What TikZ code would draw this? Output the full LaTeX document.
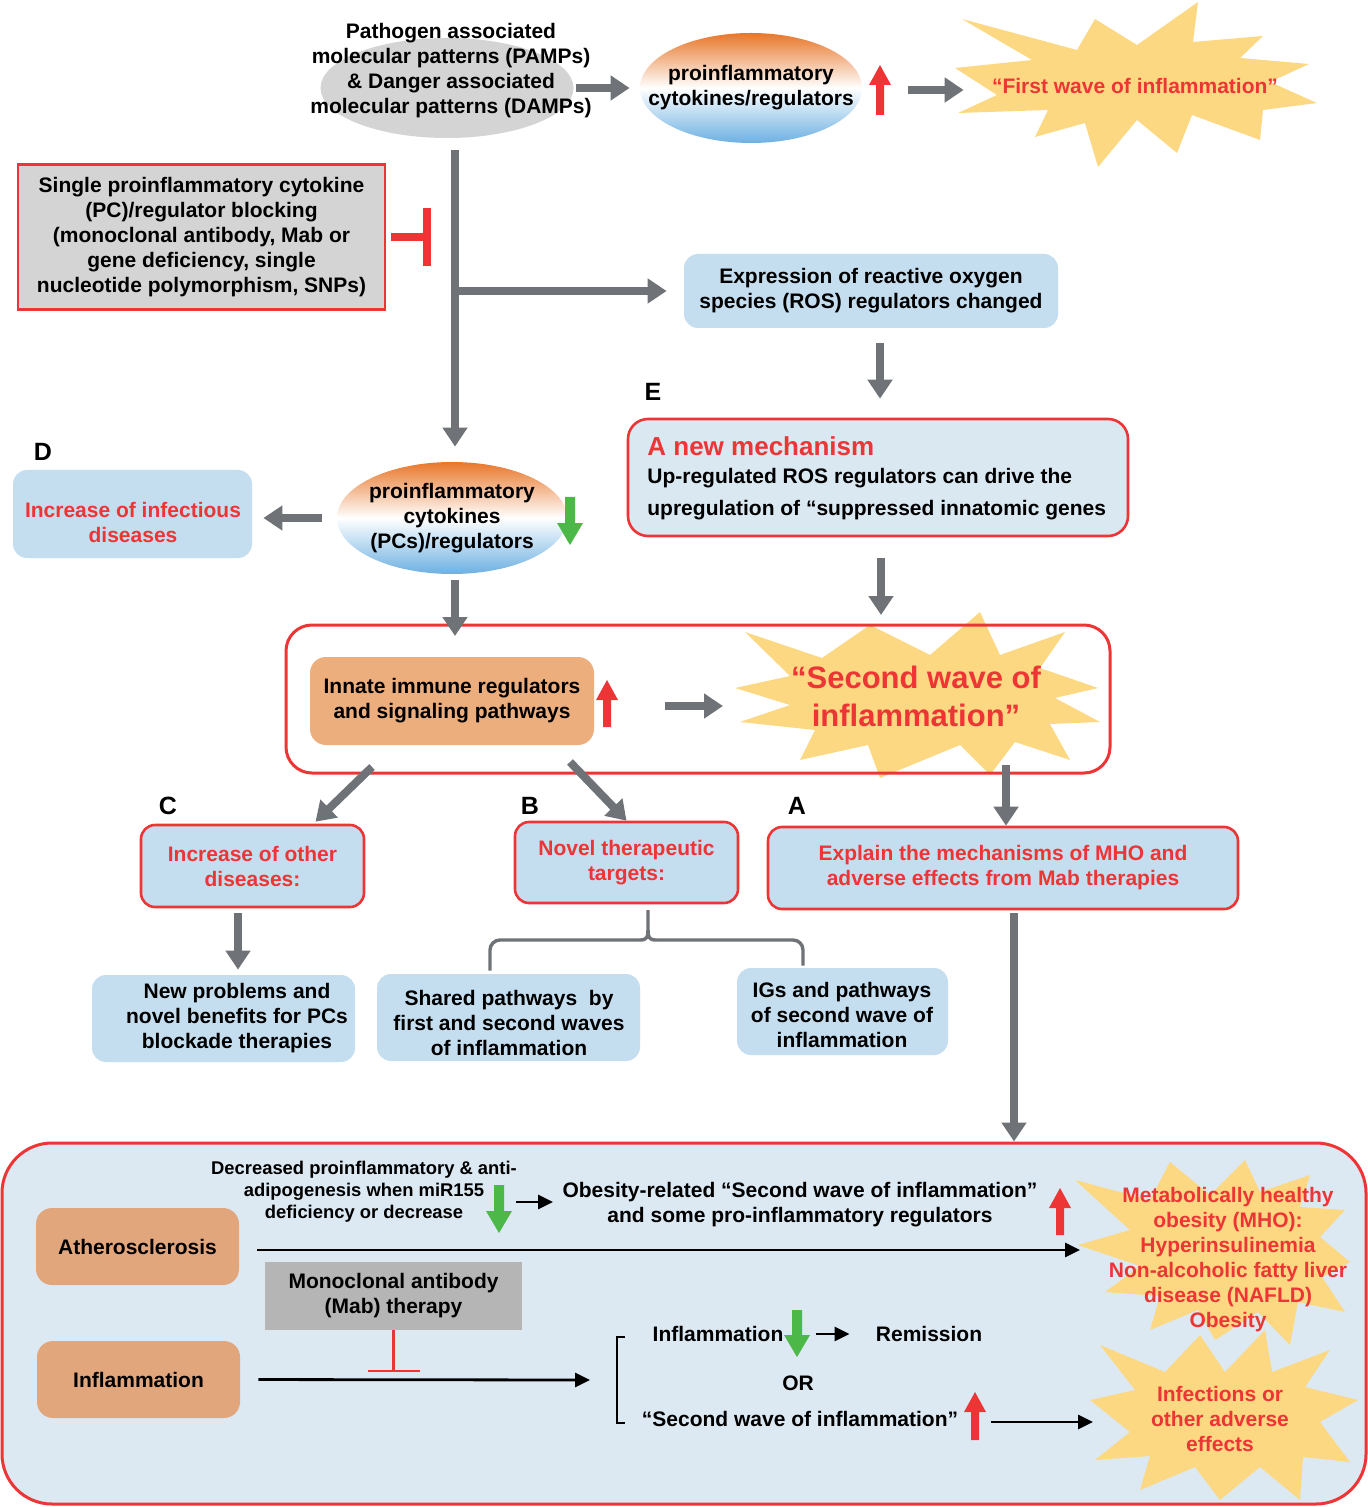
\documentclass[tikz,border=0pt]{standalone}
\usepackage{fontspec}
\setmainfont{Liberation Sans}
\usetikzlibrary{arrows.meta,shapes.geometric,calc}
\definecolor{garr}{HTML}{6F7377}
\definecolor{lblue}{HTML}{C5DEEF}
\definecolor{pblue}{HTML}{DAE8F2}
\definecolor{bblue}{HTML}{DCE9F3}
\definecolor{rred}{HTML}{EE3535}
\definecolor{orng}{HTML}{EDAE7E}
\definecolor{orng2}{HTML}{E2A67C}
\definecolor{ystar}{HTML}{FDD882}
\definecolor{lgray}{HTML}{D4D4D4}
\definecolor{mgray}{HTML}{B5B5B5}
\definecolor{ggreen}{HTML}{4CB848}
\definecolor{eorange}{HTML}{E8772A}
\definecolor{eblue}{HTML}{6DB0E2}
\newcommand\blkup[4]{%
 \fill[#4] ({#1-4},#3) -- ({#1-4},{#2+20}) -- ({#1-11},{#2+20}) -- (#1,#2) -- ({#1+11},{#2+20}) -- ({#1+4},{#2+20}) -- ({#1+4},#3) -- cycle;}
\newcommand\blkdown[4]{%
 \fill[#4] ({#1-5},#2) -- ({#1-5},{#3-22}) -- ({#1-13},{#3-22}) -- (#1,#3) -- ({#1+13},{#3-22}) -- ({#1+5},{#3-22}) -- ({#1+5},#2) -- cycle;}
\tikzset{
 txt/.style={font=\bfseries\fontsize{10.5}{12.5}\selectfont, align=center, inner sep=0pt},
 rtxt/.style={txt, text=rred},
 lbox/.style={txt, fill=lblue, rounded corners=7pt},
 rbox/.style={lbox, draw=rred, line width=1.3pt},
 garrow/.style={draw=garr, line width=4pt, -{Triangle[width=12pt,length=9.5pt]}},
 barrow/.style={draw=black, line width=1.4pt, -{Triangle[width=7pt,length=7.5pt]}},
 letter/.style={font=\bfseries\fontsize{12.5}{14}\selectfont, inner sep=0pt},
 brk/.style={draw=garr, line width=1.7pt},
 gradell/.style={ellipse, top color=eorange, bottom color=eblue, middle color=white, inner sep=0pt},
}
\begin{document}
\begin{tikzpicture}[x=0.5pt,y=-0.5pt]
\useasboundingbox (0,0) rectangle (1368,1507);
\fill[white] (0,0) rectangle (1368,1507);

% ---------- top row ----------
\node[ellipse, fill=lgray, minimum width=126.5pt, minimum height=50pt, inner sep=0pt] (pamps) at (447,88) {};
\node[txt] (pampstxt) at (451,71) {Pathogen associated\\molecular patterns (PAMPs)\\\& Danger associated\\molecular patterns (DAMPs)};
\node[gradell, minimum width=111pt, minimum height=55pt] (pro1) at (751,88) {};
\node[txt] (pro1txt) at (751,88) {proinflammatory\\cytokines/regulators};
\draw[garrow, shorten <=1pt, shorten >=5pt] (pamps.east) -- (pro1.west);
\blkup{880}{65}{115}{rred}

\fill[ystar] (962,19) -- (1077,50) -- (1095,19) -- (1137,45) -- (1198,2) -- (1193,42) -- (1263,36) -- (1240,58) -- (1309,64) -- (1270,82) -- (1317,103) -- (1263,110) -- (1260,140) -- (1192,115) -- (1177,153) -- (1137,120) -- (1098,167) -- (1085,123) -- (1035,137) -- (1048,110) -- (958,113) -- (997,95) -- (955,68) -- (1032,60) -- cycle;
\node[rtxt] (fwtxt) at (1135,86) {“First wave of inflammation”};
\coordinate (fa) at (908,90);
\draw[garrow, shorten >=14pt] (fa) -- (fa -| fwtxt.west);

% ---------- blocking ----------
\node[txt, fill=lgray, draw=rred, line width=1.3pt, minimum width=183.5pt, minimum height=72.5pt] (pcbox) at (201.5,237) {Single proinflammatory cytokine\\(PC)/regulator blocking\\(monoclonal antibody, Mab or\\gene deficiency, single\\nucleotide polymorphism, SNPs)};
\coordinate (inh) at (431,237);
\draw[rred, line width=4pt, -{Bar[width=29pt]}] ([xshift=2.5pt]pcbox.east) -- (inh);

% ---------- ROS ----------
\node[lbox, minimum width=187pt, minimum height=37pt] (ros) at (871,291) {Expression of reactive oxygen\\species (ROS) regulators changed};
\node[gradell, minimum width=115pt, minimum height=56pt] (pro2) at (452,518) {};
\node[txt] (pro2txt) at (452,518) {proinflammatory\\cytokines\\(PCs)/regulators};
\coordinate (v0) at (455,150);
\coordinate (vb) at (455,291);
\draw[garrow, shorten >=7.5pt] (v0) -- (v0 |- pro2.north);
\draw[garrow, shorten >=8.5pt] (vb) -- (ros.west);

\node[letter] (lE) at (653,392) {E};
\node[rbox, fill=pblue, minimum width=250pt, minimum height=58.5pt, rounded corners=10pt] (ebox) at (878,477.5) {};
\node[rtxt, font=\bfseries\fontsize{13}{15}\selectfont, anchor=west] (etitle) at (647,446) {A new mechanism};
\node[txt, align=left, anchor=west, font=\bfseries\fontsize{10.5}{16}\selectfont] (ebody) at (647,494) {Up-regulated ROS regulators can drive the\\upregulation of “suppressed innatomic genes};
\draw[garrow, shorten <=7.5pt, shorten >=9.5pt] ([xshift=4.5pt]ros.south) -- ([xshift=4.5pt]ros.south |- ebox.north);

% ---------- D ----------
\node[letter] (lD) at (43,452) {D};
\node[lbox, minimum width=119.5pt, minimum height=44pt] (dbox) at (132.5,514) {};
\node[rtxt] (dtxt) at (133,522) {Increase of infectious\\diseases};
\draw[garrow, shorten <=7.5pt, shorten >=5.5pt] (pro2.west) -- (pro2.west -| dbox.east);
\blkdown{570}{497}{545}{ggreen}

% ---------- second wave ----------
\fill[ystar] (980,612) -- (1000,655) -- (1065,632) -- (1040,668) -- (1098,688) -- (1055,698) -- (1100,722) -- (1050,724) -- (1070,760) -- (1015,742) -- (990,775) -- (960,745) -- (880,778) -- (868,745) -- (800,760) -- (815,730) -- (740,722) -- (790,705) -- (735,688) -- (790,676) -- (745,632) -- (822,658) -- (870,625) -- (930,655) -- cycle;
\node[draw=rred, line width=1.5pt, rounded corners=13pt, minimum width=412pt, minimum height=74pt] (wave) at (698,699) {};
\coordinate (s2top) at (881,615);
\draw[garrow, shorten <=10.5pt] (ebox.south -| s2top) -- (s2top);
\coordinate (p2end) at (455,636);
\draw[garrow, shorten <=3pt] (pro2.south -| p2end) -- (p2end);
\node[txt, fill=orng, rounded corners=8pt, minimum width=142pt, minimum height=44pt] (innate) at (452,701) {Innate immune regulators\\and signaling pathways};
\blkup{607}{680}{727}{rred}
\node[rtxt, font=\bfseries\fontsize{15.5}{19}\selectfont] (s2txt) at (916,696) {“Second wave of\\inflammation”};
\coordinate (ia) at (665,706);
\coordinate (ib) at (723,706);
\draw[garrow] (ia) -- (ib);

% ---------- A B C ----------
\node[letter] (lC) at (168,806) {C};
\node[letter] (lB) at (530,806) {B};
\node[letter] (lA) at (797,806) {A};
\node[rbox, text=rred, minimum width=111.5pt, minimum height=41pt] (cbox) at (252.5,866) {Increase of other\\diseases:};
\node[rbox, text=rred, minimum width=111.5pt, minimum height=40.5pt] (bbox) at (626.5,862.5) {Novel therapeutic\\targets:};
\node[rbox, text=rred, minimum width=235pt, minimum height=41pt] (abox) at (1003,868) {Explain the mechanisms of MHO and\\adverse effects from Mab therapies};
\coordinate (ca) at (372,767);
\draw[garrow] (ca) -- ($(cbox.north)+(63,-2)$);
\coordinate (ba) at (570,762);
\draw[garrow] (ba) -- (bbox.north);
\coordinate (aa) at (1006,765);
\draw[garrow] (aa) -- (aa |- abox.north);

\node[lbox, minimum width=131.5pt, minimum height=43.5pt] (newp) at (223.5,1018.5) {};
\node[txt] (newpt) at (237,1018) {New problems and\\novel benefits for PCs\\blockade therapies};
\draw[garrow, shorten <=2.5pt, shorten >=2.5pt] ([xshift=-7.25pt]cbox.south) -- ([xshift=-7.25pt]cbox.south |- newp.north);
\node[lbox, minimum width=131.5pt, minimum height=43.5pt] (shared) at (508.5,1017.5) {};
\node[txt] (sharedt) at (509,1023) {Shared pathways~~by\\first and second waves\\of inflammation};
\node[lbox, minimum width=105.5pt, minimum height=43.5pt] (igs) at (842.5,1011.5) {};
\node[txt] (igst) at (842,1015) {IGs and pathways\\of second wave of\\inflammation};
\coordinate (brl) at (490,940);
\coordinate (brr) at (803,940);
\coordinate (brs) at (648,910);
\draw[brk, rounded corners=5pt] ($(brl |- shared.north)+(0,-3)$) -- (brl) -- ($(brs |- brl)+(-8,0)$);
\draw[brk] ($(brs |- brl)+(-8,0)$) .. controls ($(brs |- brl)+(-1,0)$) and ($(brs |- brl)+(0,-3)$) .. ($(brs |- brl)+(0,-10)$) -- (brs);
\draw[brk] ($(brs |- brl)+(0,-10)$) .. controls ($(brs |- brl)+(0,-3)$) and ($(brs |- brl)+(1,0)$) .. ($(brs |- brl)+(8,0)$);
\draw[brk, rounded corners=5pt] ($(brs |- brl)+(8,0)$) -- (brr) -- ($(brr |- igs.north)+(0,-2)$);

% ---------- bottom panel ----------
\node[draw=rred, fill=bblue, line width=1.5pt, rounded corners=25pt, minimum width=682pt, minimum height=180.5pt] (bottom) at (684,1323.5) {};
\draw[garrow, shorten <=1.5pt] ([xshift=5.5pt]abox.south) -- ([xshift=5.5pt]abox.south |- bottom.north);

\fill[ystar] (1245,1160) -- (1260,1192) -- (1310,1175) -- (1300,1207) -- (1345,1210) -- (1320,1237) -- (1350,1262) -- (1322,1277) -- (1345,1312) -- (1298,1302) -- (1290,1345) -- (1258,1312) -- (1215,1340) -- (1198,1310) -- (1150,1330) -- (1160,1296) -- (1105,1292) -- (1140,1266) -- (1078,1245) -- (1130,1230) -- (1075,1180) -- (1150,1200) -- (1170,1162) -- (1210,1195) -- cycle;
\fill[ystar] (1265,1330) -- (1272,1372) -- (1330,1350) -- (1305,1387) -- (1358,1400) -- (1320,1422) -- (1350,1462) -- (1303,1457) -- (1300,1500) -- (1260,1467) -- (1220,1500) -- (1195,1467) -- (1140,1490) -- (1150,1456) -- (1095,1460) -- (1130,1432) -- (1090,1400) -- (1135,1390) -- (1100,1345) -- (1165,1372) -- (1200,1335) -- (1225,1372) -- cycle;

\node[txt, fill=orng2, rounded corners=8pt, minimum width=101.5pt, minimum height=38.5pt] (ath) at (137.5,1246.5) {Atherosclerosis};
\node[txt, fill=orng2, rounded corners=8pt, minimum width=101.5pt, minimum height=38.5pt] (infl) at (138.5,1379.5) {Inflammation};
\coordinate (mhoin) at (1080,1250);
\draw[barrow, shorten <=9pt] (ath.east |- mhoin) -- (mhoin);
\node[txt, font=\bfseries\fontsize{9.2}{11}\selectfont] (decr) at (364,1192) {Decreased proinflammatory \& anti-\\adipogenesis when miR155\\deficiency or decrease};
\blkdown{499}{1185}{1233}{ggreen}
\node[txt] (obes) at (800,1204.5) {Obesity-related “Second wave of inflammation”\\and some pro-inflammatory regulators};
\coordinate (sa1) at (516,1202);
\draw[barrow, shorten >=4.5pt] (sa1) -- (sa1 -| obes.west);
\blkup{1060}{1188}{1235}{rred}
\node[txt, fill=mgray, minimum width=128.5pt, minimum height=34pt] (mab) at (393.5,1296) {Monoclonal antibody\\(Mab) therapy};
\coordinate (mabinh) at (393.5,1372);
\draw[rred, line width=1.2pt, -{Bar[width=26pt]}] (mab.south) -- (mabinh);
\coordinate (brk1) at (590,1380);
\draw[barrow, shorten <=9pt] (infl.east) -- (brk1);
\draw[black, line width=0.9pt] (625,1337) -- (617,1337) -- (617,1423) -- (625,1423);
\node[txt] (inflt) at (718,1334) {Inflammation};
\blkdown{797}{1310}{1357}{ggreen}
\node[txt] (remis) at (929,1334) {Remission};
\draw[barrow, shorten <=16pt, shorten >=13pt] (inflt.east) -- (remis.west);
\node[txt] (or) at (798,1383) {OR};
\node[txt] (swt) at (800,1419) {“Second wave of inflammation”};
\blkup{975}{1392}{1440}{rred}
\coordinate (infin) at (1093,1422);
\draw[barrow, shorten <=16pt] (swt.east |- infin) -- (infin);
\node[rtxt] (mhot) at (1228,1260) {Metabolically healthy\\obesity (MHO):\\Hyperinsulinemia\\Non-alcoholic fatty liver\\disease (NAFLD)\\Obesity};
\node[rtxt] (inft) at (1220,1419) {Infections or\\other adverse\\effects};
\end{tikzpicture}
\end{document}
